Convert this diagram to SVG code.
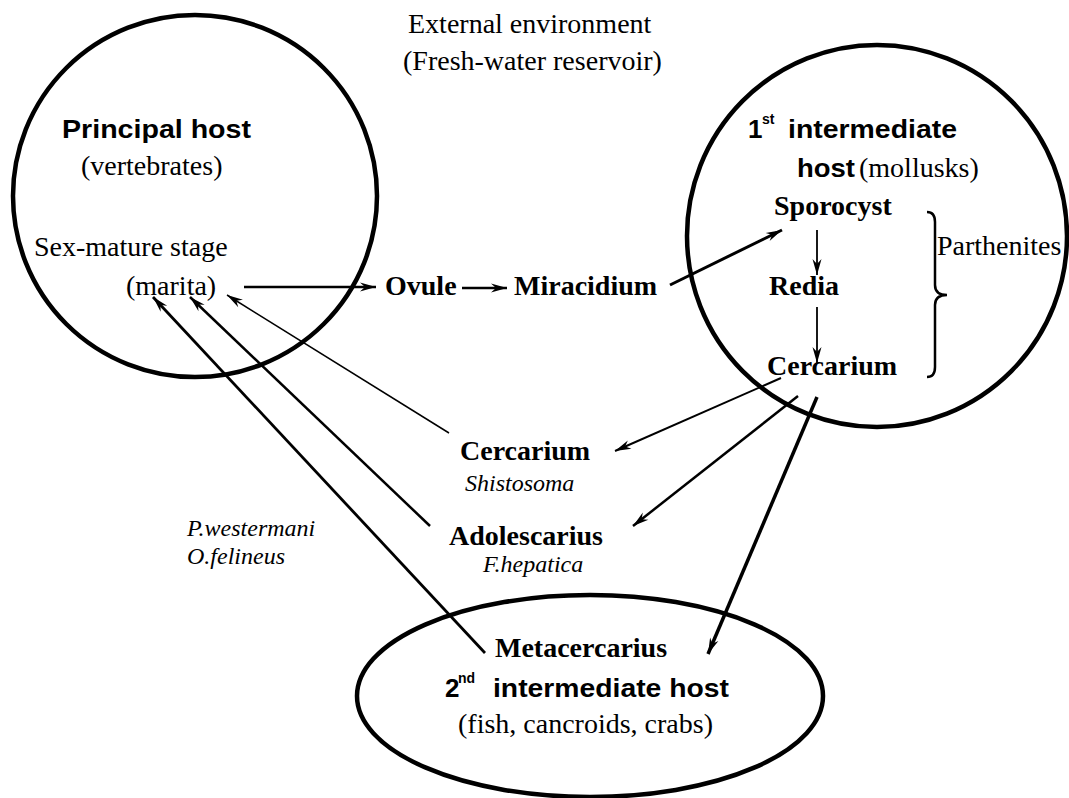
<svg xmlns="http://www.w3.org/2000/svg" width="1069" height="798" viewBox="0 0 1069 798">
<style>
.host{fill:none;stroke:#000;stroke-width:4.5}
.tr{font-family:"Liberation Serif","Times New Roman",serif;font-size:28px;fill:#000}
.tb{font-family:"Liberation Serif","Times New Roman",serif;font-size:28px;font-weight:bold;fill:#000}
.ti{font-family:"Liberation Serif","Times New Roman",serif;font-size:24px;font-style:italic;fill:#000}
.sb{font-family:"Liberation Sans",Arial,sans-serif;font-size:26px;font-weight:bold;fill:#000}
.sup{font-family:"Liberation Sans",Arial,sans-serif;font-size:14px;font-weight:bold;fill:#000}
.c{fill:none;stroke:#000;marker-end:url(#ah)}
</style>
<defs>
<marker id="ah" markerUnits="userSpaceOnUse" markerWidth="24" markerHeight="14" viewBox="-18 -7 20 14" refX="0" refY="0" orient="auto">
<path d="M0,0 L-16,-4.5 L-11,0 L-16,4.5 Z" fill="#000"/>
</marker>
</defs>
<rect width="1069" height="798" fill="#fff"/>

<g id="external">
<text class="tr" x="408" y="33">External environment</text>
<text class="tr" x="403" y="70">(Fresh-water reservoir)</text>
</g>

<g id="principal-host">
<ellipse class="host" cx="195" cy="196" rx="182" ry="181"/>
<text class="sb" x="62" y="138" textLength="189" lengthAdjust="spacingAndGlyphs">Principal host</text>
<text class="tr" x="81" y="175">(vertebrates)</text>
<text class="tr" x="34" y="256">Sex-mature stage</text>
<text class="tr" x="126" y="295">(marita)</text>
</g>

<g id="ovule"><text class="tb" x="385" y="295">Ovule</text></g>
<g id="miracidium"><text class="tb" x="514" y="295">Miracidium</text></g>

<g id="first-host">
<ellipse class="host" cx="877" cy="236" rx="190" ry="191"/>
<text class="sb" x="748" y="138">1</text>
<text class="sup" x="762" y="124">st</text>
<text class="sb" x="788" y="138" textLength="169" lengthAdjust="spacingAndGlyphs">intermediate</text>
<text class="sb" x="797" y="177" textLength="58" lengthAdjust="spacingAndGlyphs">host</text>
<text class="tr" x="859" y="177">(mollusks)</text>
<text class="tb" x="774" y="215">Sporocyst</text>
<text class="tb" x="769" y="295">Redia</text>
<text class="tb" x="767" y="375">Cercarium</text>
<path d="M927,212 Q935,212 935,222 L935,285 Q935,295 947,295 Q935,295 935,305 L935,367 Q935,377 927,377" fill="none" stroke="#000" stroke-width="2.5"/>
<text class="tr" x="937" y="255">Parthenites</text>
</g>

<g id="cercarium">
<text class="tb" x="460" y="460">Cercarium</text>
<text class="ti" x="465" y="491">Shistosoma</text>
</g>

<g id="adolescarius">
<text class="tb" x="449" y="545">Adolescarius</text>
<text class="ti" x="483" y="572">F.hepatica</text>
</g>

<g id="species">
<text class="ti" x="187" y="536">P.westermani</text>
<text class="ti" x="187" y="564">O.felineus</text>
</g>

<g id="second-host">
<ellipse class="host" cx="590" cy="696" rx="233" ry="101"/>
<text class="tb" x="495" y="657">Metacercarius</text>
<text class="sb" x="445" y="697">2</text>
<text class="sup" x="458" y="683">nd</text>
<text class="sb" x="493" y="697" textLength="236" lengthAdjust="spacingAndGlyphs">intermediate host</text>
<text class="tr" x="458" y="733" font-size="27">(fish, cancroids, crabs)</text>
</g>

<g id="connectors">
<line class="c" x1="244" y1="287" x2="376" y2="287" stroke-width="2.5"/>
<line class="c" x1="462" y1="288" x2="507" y2="288" stroke-width="2.5"/>
<line class="c" x1="670" y1="285" x2="782" y2="230" stroke-width="3"/>
<line class="c" x1="817" y1="230" x2="817" y2="275" stroke-width="1.8"/>
<line class="c" x1="817" y1="307" x2="817" y2="363" stroke-width="1.8"/>
<line class="c" x1="781" y1="378" x2="615" y2="451" stroke-width="2"/>
<line class="c" x1="798" y1="396" x2="633" y2="526" stroke-width="2.5"/>
<line class="c" x1="817" y1="397" x2="708" y2="654" stroke-width="3.5"/>
<line class="c" x1="449" y1="433" x2="227" y2="295" stroke-width="1.5"/>
<line class="c" x1="430" y1="526" x2="190" y2="297" stroke-width="2.5"/>
<line class="c" x1="485" y1="653" x2="153" y2="297" stroke-width="2.8"/>
</g>
</svg>
